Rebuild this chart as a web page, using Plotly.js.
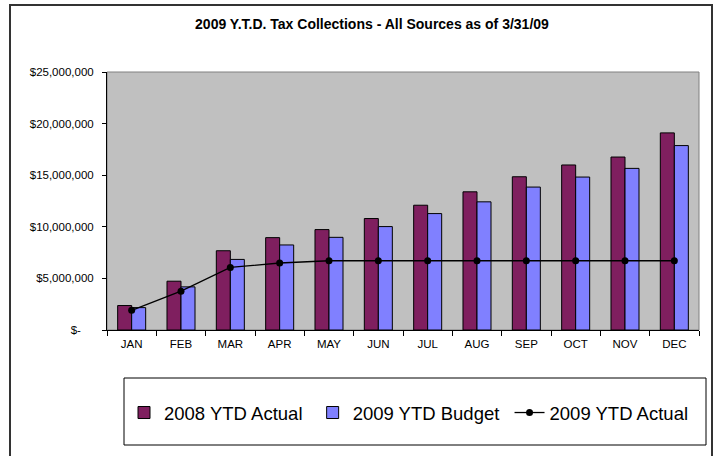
<!DOCTYPE html>
<html>
<head>
<meta charset="utf-8">
<script src="https://cdn.plot.ly/plotly-3.0.1.min.js"></script>
<style>
html,body{margin:0;padding:0;background:#fff;}
#chart{width:715px;height:456px;}
</style>
</head>
<body>
<div id="chart"></div>
<script>
var months = ["JAN","FEB","MAR","APR","MAY","JUN","JUL","AUG","SEP","OCT","NOV","DEC"];
var actual2008 = [2370000,4730000,7680000,8950000,9730000,10800000,12090000,13390000,14850000,15990000,16760000,19100000];
var budget2009 = [2170000,4180000,6840000,8240000,8980000,10020000,11280000,12420000,13850000,14820000,15660000,17870000];
var actual2009 = [1910000,3760000,6060000,6490000,6710000,6710000,6710000,6710000,6710000,6710000,6710000,6710000];
var yTickVals = [0,5000000,10000000,15000000,20000000,25000000];
var yTickText = ["$-\u00a0\u00a0\u00a0\u00a0","$5,000,000","$10,000,000","$15,000,000","$20,000,000","$25,000,000"];
var seriesNames = ["2008 YTD Actual","2009 YTD Budget","2009 YTD Actual"];

var font = "Arial, 'Liberation Sans', sans-serif";

var traces = [
  {type:"bar", name:seriesNames[0] + "\u00a0", x:months, y:actual2008,
   marker:{color:"#7F1F5F", line:{color:"#000", width:1}}},
  {type:"bar", name:seriesNames[1] + "\u00a0", x:months, y:budget2009,
   marker:{color:"#8080FF", line:{color:"#000", width:1}}},
  {type:"scatter", mode:"lines+markers", name:seriesNames[2], x:months, y:actual2009,
   line:{color:"#000", width:1.3}, marker:{color:"#000", size:7, symbol:"circle"}}
];

var layout = {
  width:715, height:456,
  margin:{l:107, r:16, t:72, b:126, pad:0},
  paper_bgcolor:"#fff",
  plot_bgcolor:"#C0C0C0",
  font:{family:font, color:"#000", size:11.5},
  title:{text:"<b>2009 Y.T.D. Tax Collections - All Sources as of 3/31/09</b>",
         font:{family:font, size:14, color:"#000"},
         xref:"paper", x:0.4476, xanchor:"center",
         yref:"container", y:1-24/456, yanchor:"middle"},
  barmode:"group",
  bargap:0.432,
  bargroupgap:0,
  showlegend:true,
  legend:{orientation:"h", x:(124-107)/592, xanchor:"left",
          y:(330-413)/258, yanchor:"middle",
          bgcolor:"rgba(0,0,0,0)", borderwidth:0,
          font:{family:font, size:18.5, color:"#000"},
          traceorder:"normal"},
  xaxis:{type:"category", range:[-0.5,11.5], autorange:false,
         showline:true, linecolor:"#000", linewidth:1,
         ticks:"outside", ticklen:5, tickcolor:"#000", tickson:"boundaries",
         showgrid:false, zeroline:false, ticklabelstandoff:3,
         tickfont:{family:font, size:11.5, color:"#000"}, fixedrange:true},
  yaxis:{range:[0,25000000], autorange:false, tickvals:yTickVals, ticktext:yTickText,
         showline:true, linecolor:"#000", linewidth:1,
         ticks:"outside", ticklen:4, tickcolor:"#000",
         showgrid:false, zeroline:false, ticklabelstandoff:6,
         tickfont:{family:font, size:11.5, color:"#000"}, fixedrange:true},
  shapes:[
    {type:"rect", xref:"paper", yref:"paper", x0:0, x1:1, y0:0, y1:1,
     line:{color:"#808080", width:1}, fillcolor:"rgba(0,0,0,0)", layer:"below"},
    {type:"rect", xref:"paper", yref:"paper",
     x0:(124-107)/592, x1:(706-107)/592, y0:(330-445)/258, y1:(330-378)/258,
     line:{color:"#000", width:1}, fillcolor:"rgba(0,0,0,0)"},
    {type:"rect", xref:"paper", yref:"paper",
     x0:(10-107)/592, x1:(712-107)/592, y0:(330-470)/258, y1:(330-5)/258,
     line:{color:"#333", width:2}, fillcolor:"rgba(0,0,0,0)"}
  ]
};

Plotly.newPlot("chart", traces, layout, {displayModeBar:false, staticPlot:true});
</script>
</body>
</html>
